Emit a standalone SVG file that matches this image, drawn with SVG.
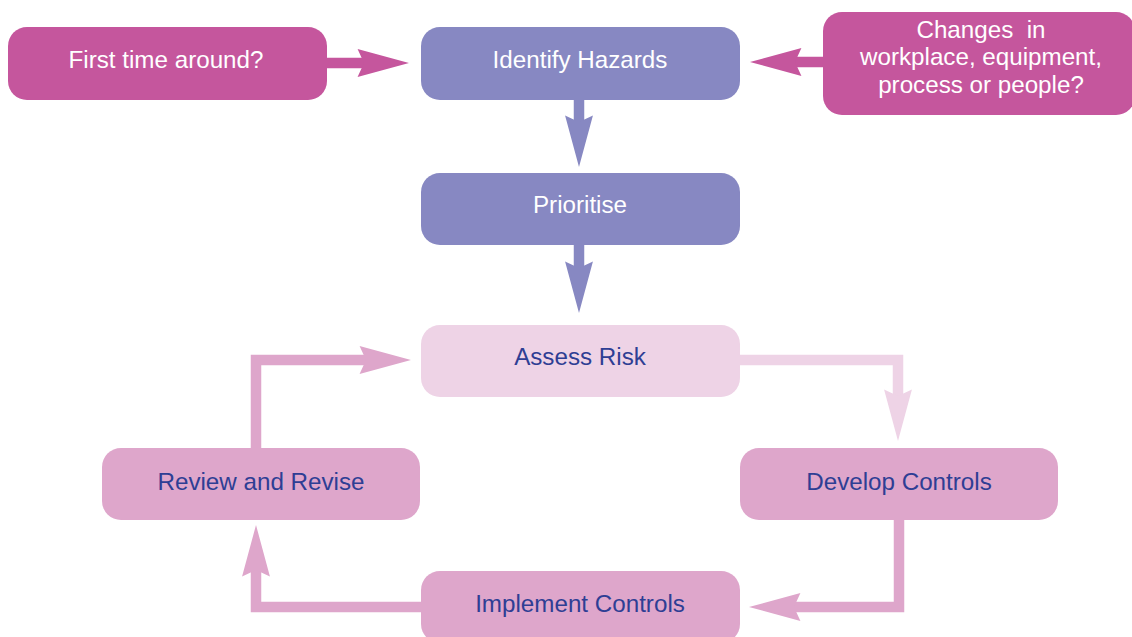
<svg xmlns="http://www.w3.org/2000/svg" width="1132" height="637" viewBox="0 0 1132 637">
<style>
  .box { stroke: none; }
  .mag { fill: #C5569D; }
  .pur { fill: #8788C2; }
  .lt { fill: #EED3E6; }
  .pk { fill: #DEA6CB; }
  .t { font-family: "Liberation Sans", Arial, Helvetica, sans-serif; font-size: 24.2px; text-anchor: middle; }
  .w { fill: #FFFFFF; }
  .b { fill: #2E3E94; }
  .c { fill: none; stroke-width: 10.5; stroke-linejoin: miter; stroke-linecap: butt; }
</style>
<defs>
  <marker id="hMag" markerUnits="userSpaceOnUse" markerWidth="60" markerHeight="40" viewBox="-2 -16 56 32" refX="6" refY="0" orient="auto" overflow="visible">
    <path d="M0,-13 L48,0 L0,13 L6,0 Z" fill="#C5569D"/>
  </marker>
  <marker id="hPur" markerUnits="userSpaceOnUse" markerWidth="60" markerHeight="40" viewBox="-2 -16 56 32" refX="6" refY="0" orient="auto" overflow="visible">
    <path d="M0,-13 L48,0 L0,13 L6,0 Z" fill="#8788C2"/>
  </marker>
  <marker id="hLt" markerUnits="userSpaceOnUse" markerWidth="60" markerHeight="40" viewBox="-2 -16 56 32" refX="6" refY="0" orient="auto" overflow="visible">
    <path d="M0,-13 L48,0 L0,13 L6,0 Z" fill="#EED3E6"/>
  </marker>
  <marker id="hPk" markerUnits="userSpaceOnUse" markerWidth="60" markerHeight="40" viewBox="-2 -16 56 32" refX="6" refY="0" orient="auto" overflow="visible">
    <path d="M0,-13 L48,0 L0,13 L6,0 Z" fill="#DEA6CB"/>
  </marker>
</defs>
<rect width="1132" height="637" fill="#FFFFFF"/>
<g id="connectors">
  <polyline class="c" stroke="#C5569D" points="326,63 364,63" marker-end="url(#hMag)"/>
  <polyline class="c" stroke="#C5569D" points="824,62 795,62" marker-end="url(#hMag)"/>
  <polyline class="c" stroke="#8788C2" points="579,99 579,122" marker-end="url(#hPur)"/>
  <polyline class="c" stroke="#8788C2" points="579,244 579,268" marker-end="url(#hPur)"/>
  <polyline class="c" stroke="#EED3E6" points="739,360 898,360 898,396" marker-end="url(#hLt)"/>
  <polyline class="c" stroke="#DEA6CB" points="899,519 899,607 794,607" marker-end="url(#hPk)"/>
  <polyline class="c" stroke="#DEA6CB" points="422,607 256,607 256,570" marker-end="url(#hPk)"/>
  <polyline class="c" stroke="#DEA6CB" points="256,449 256,360 366,360" marker-end="url(#hPk)"/>
</g>
<g id="first-time">
  <rect class="box mag" x="8" y="27" width="319" height="73" rx="19"/>
  <text class="t w" x="166" y="68">First time around?</text>
</g>
<g id="identify-hazards">
  <rect class="box pur" x="421" y="27" width="319" height="73" rx="19"/>
  <text class="t w" x="580" y="68">Identify Hazards</text>
</g>
<g id="changes">
  <rect class="box mag" x="823" y="12" width="312" height="103" rx="19"/>
  <text class="t w" x="981" y="38" style="white-space:pre">Changes  in</text>
  <text class="t w" x="981" y="65">workplace, equipment,</text>
  <text class="t w" x="981" y="93">process or people?</text>
</g>
<g id="prioritise">
  <rect class="box pur" x="421" y="173" width="319" height="72" rx="19"/>
  <text class="t w" x="580" y="213">Prioritise</text>
</g>
<g id="assess-risk">
  <rect class="box lt" x="421" y="325" width="319" height="72" rx="19"/>
  <text class="t b" x="580" y="365">Assess Risk</text>
</g>
<g id="review-revise">
  <rect class="box pk" x="102" y="448" width="318" height="72" rx="19"/>
  <text class="t b" x="261" y="490">Review and Revise</text>
</g>
<g id="develop-controls">
  <rect class="box pk" x="740" y="448" width="318" height="72" rx="19"/>
  <text class="t b" x="899" y="490">Develop Controls</text>
</g>
<g id="implement-controls">
  <rect class="box pk" x="421" y="571" width="319" height="72" rx="19"/>
  <text class="t b" x="580" y="612">Implement Controls</text>
</g>
</svg>
